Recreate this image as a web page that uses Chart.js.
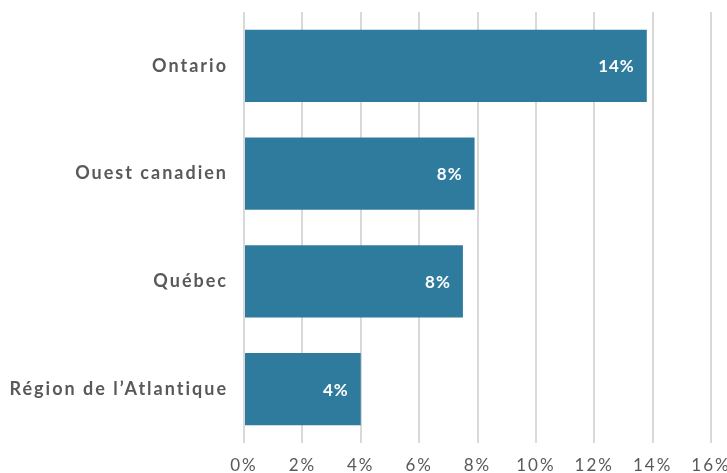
<!DOCTYPE html>
<html>
<head>
<meta charset="utf-8">
<script src="https://cdn.jsdelivr.net/npm/chart.js@4/dist/chart.umd.min.js"></script>
<style>
  html, body { margin: 0; padding: 0; background: #fff; }
  #wrap { width: 727px; height: 473px; }
</style>
</head>
<body>
<div id="wrap"><canvas id="chart" width="727" height="473"></canvas></div>
<script>
// data
const regions = ['Ontario', 'Ouest canadien', 'Québec', 'Région de l\u2019Atlantique'];
const shares = [13.8, 7.9, 7.5, 4.0];
const shareLabels = ['14%', '8%', '8%', '4%'];
const xTicks = [0, 2, 4, 6, 8, 10, 12, 14, 16];

const textGray = '#595959';
const barBlue = '#2E7B9E';
const fontFam = 'Lato, "Open Sans", sans-serif';

// wider tracking, the original font is a wide humanist sans
const tracking = {
  id: 'tracking',
  beforeDraw(chart) { chart.ctx.letterSpacing = '2px'; },
  afterDraw(chart) { chart.ctx.letterSpacing = '0px'; }
};

// white value labels at the inner end of each bar
const barLabels = {
  id: 'barLabels',
  afterDatasetsDraw(chart) {
    const ctx = chart.ctx;
    const meta = chart.getDatasetMeta(0);
    ctx.save();
    ctx.font = 'bold 17px ' + fontFam;
    ctx.letterSpacing = '1px';
    ctx.fillStyle = '#ffffff';
    ctx.textAlign = 'right';
    ctx.textBaseline = 'middle';
    meta.data.forEach((bar, i) => {
      ctx.fillText(shareLabels[i], bar.x - 12, bar.y + 1);
    });
    ctx.restore();
  }
};

new Chart(document.getElementById('chart').getContext('2d'), {
  type: 'bar',
  data: {
    labels: regions,
    datasets: [{
      data: shares,
      backgroundColor: barBlue,
      borderWidth: 0,
      barPercentage: 1,
      categoryPercentage: 0.67
    }]
  },
  options: {
    indexAxis: 'y',
    responsive: false,
    animation: false,
    layout: { padding: { top: 12, right: 16, left: 0, bottom: 0 } },
    plugins: {
      legend: { display: false },
      tooltip: { enabled: false }
    },
    scales: {
      x: {
        min: 0,
        max: 16,
        afterBuildTicks: (scale) => { scale.ticks = xTicks.map(v => ({ value: v })); },
        afterFit: (scale) => {
          scale.height = 30;
          scale.paddingLeft = 0;
          scale.paddingRight = 0;
        },
        grid: { color: '#d9d9d9', lineWidth: 2, drawTicks: false },
        border: { display: false },
        ticks: {
          color: textGray,
          font: { family: fontFam, size: 17 },
          padding: 12,
          maxRotation: 0,
          callback: (v) => v + '%'
        }
      },
      y: {
        afterFit: (scale) => {
          scale.width = 244;
          scale.paddingTop = 0;
          scale.paddingBottom = 0;
        },
        grid: { display: false },
        border: { display: false },
        ticks: {
          color: textGray,
          font: { family: fontFam, size: 18, weight: 'bold' },
          padding: 8,
          callback: function (v) { return this.getLabelForValue(v); }
        }
      }
    }
  },
  plugins: [tracking, barLabels]
});
</script>
</body>
</html>
